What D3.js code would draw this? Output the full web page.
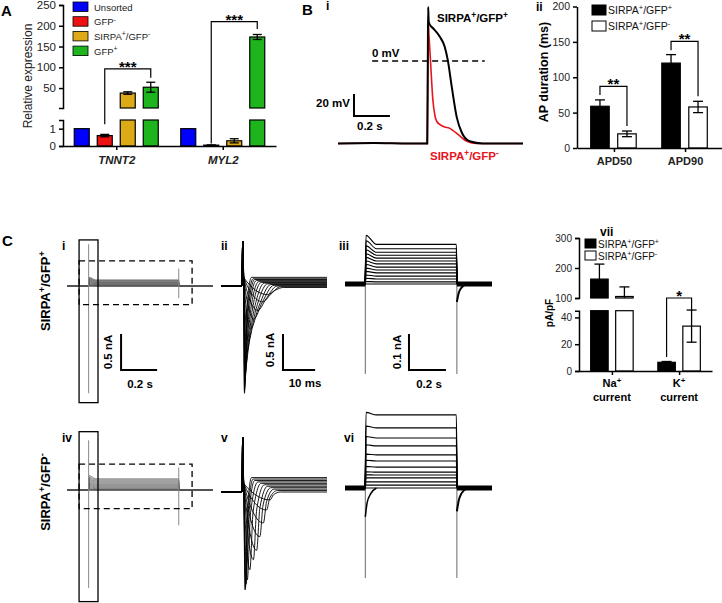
<!DOCTYPE html>
<html lang="en">
<head>
<meta charset="UTF-8">
<title>SIRPA / GFP cardiomyocytes</title>
<script src="https://d3js.org/d3.v7.min.js"></script>
<style>
  body { margin: 0; background: #fff; }
  svg { font-family: "Liberation Sans", Arial, sans-serif; }
  .ax path, .ax line { stroke: #000; stroke-width: 1.5px; }
  .ax text { fill: #222; }
</style>
</head>
<body>
<svg width="722" height="603"></svg>
<script>
// ---------- data: panel A (qPCR) ----------
const genes = ["TNNT2", "MYL2"];
const groupsA = ["Unsorted", "GFP^-", "SIRPA^+/GFP^-", "GFP^+"];
const colorsA = ["#0000ff", "#ee1111", "#ddaa17", "#1db41d"];
const tnnt2Mean = [1, 0.6, 38, 52];
const tnnt2Err = [0, 0.07, 3, 12];
const myl2Mean = [1, 0.05, 0.3, 173];
const myl2Err = [0, 0.01, 0.12, 6];
const ticksAHi = [50, 100, 150, 200, 250];
const ticksALo = [0, 1];
const sigA = [
  {gene: "TNNT2", from: 1, to: 3, level: 96, endFrom: 1.25, endTo: 75, label: "***"},
  {gene: "MYL2", from: 1, to: 3, level: 210, endFrom: 0.15, endTo: 192, label: "***"}
];

// ---------- data: panel B i (action potentials, ms / mV) ----------
const apBlackT = [0, 200, 400, 497, 500, 502, 505, 511, 528, 567, 594, 611, 633, 661, 689, 733, 805, 900, 1030];
const apBlackV = [-75, -74.5, -75, -75, 0, 49, 36, 33, 30, 22, 13, 1, -23, -51, -65, -73, -75, -75, -75];
const apRedT = [0, 200, 400, 497, 500, 502, 506, 515, 528, 540, 550, 570, 594, 620, 639, 670, 717, 772, 900, 1030];
const apRedV = [-75, -74.5, -75, -75, 0, 37, 25, 0, -35, -50, -55, -58, -60, -61, -63, -67, -73, -75, -75, -75];

// ---------- data: panel B ii (APD) ----------
const apdCats = ["APD50", "APD90"];
const apdGroups = ["SIRPA^+/GFP^+", "SIRPA^+/GFP^-"];
const apdPosMean = [59, 120];
const apdPosErr = [9, 12];
const apdNegMean = [20, 58];
const apdNegErr = [4, 8];
const ticksB = [0, 50, 100, 150, 200];
const sigB = [
  {cat: "APD50", level: 87, endFrom: 75, endTo: 31, label: "**"},
  {cat: "APD90", level: 150.7, endFrom: 138, endTo: 73, label: "**"}
];

// ---------- data: panel C i / iv (whole sweeps, s / nA) ----------
const ciSteady = [0.085, 0.075, 0.066, 0.057, 0.049, 0.041, 0.033, 0.026, 0.019, 0.012, 0.006, 0];
const ciOnset = [0.12, 0.11, 0.1, 0.09, 0.08, 0.07, 0.06, 0.05, 0.04, 0.03, 0.02, 0.01];
const civSteady = [0.155, 0.14, 0.125, 0.11, 0.095, 0.08, 0.066, 0.053, 0.04, 0.028, 0.017, 0.008, 0];
const civOnset = [0.2, 0.18, 0.16, 0.145, 0.13, 0.11, 0.095, 0.08, 0.065, 0.05, 0.035, 0.02, 0.01];

// ---------- data: panel C ii / v (Na currents, ms / nA) ----------
const ciiPeakT = [7.3, 7.3, 7.35, 7.4, 7.5, 7.7, 8.0, 8.5, 9.2, 10.2, 11.5, 13.0, 14.5];
const ciiPeakI = [-1.49, -1.45, -1.4, -1.32, -1.22, -1.08, -0.92, -0.76, -0.6, -0.46, -0.34, -0.22, -0.12];
const ciiMidT = [8.0, 8.2, 8.4, 8.7, 9.1, 9.6, 10.2, 10.9, 11.8, 12.8, 14.0, 15.4, 16.8];
const ciiMidI = [-0.35, -0.36, -0.37, -0.38, -0.38, -0.37, -0.35, -0.32, -0.28, -0.23, -0.18, -0.12, -0.06];
const ciiRecT = [9.5, 10, 10.5, 11, 11.8, 12.6, 13.5, 14.5, 15.5, 16.5, 17.5, 18.5, 19.5];
const ciiSteady = [0.12, 0.1, 0.09, 0.075, 0.06, 0.05, 0.04, 0.03, 0.02, 0.01, 0, -0.01, -0.02];
const cvPeakT = [7.5, 7.6, 7.8, 8.2, 9.0, 10.1, 11.1, 12.1, 13.2, 14.2, 15.3];
const cvPeakI = [-1.36, -1.33, -1.28, -1.22, -1.08, -0.94, -0.81, -0.62, -0.43, -0.25, -0.11];
const cvMidT = [8.2, 8.4, 8.7, 9.2, 10.0, 11.1, 12.1, 13.1, 14.2, 15.2, 16.3];
const cvMidI = [-0.3, -0.3, -0.3, -0.29, -0.27, -0.25, -0.22, -0.18, -0.13, -0.08, -0.04];
const cvRecT = [9.5, 10, 10.5, 11.5, 12.5, 13.5, 14.5, 15.5, 16.5, 17.5, 18.5];
const cvSteady = [0.2, 0.18, 0.16, 0.14, 0.12, 0.1, 0.08, 0.06, 0.04, 0.02, 0];

// ---------- data: panel C iii / vi (K currents, s / nA) ----------
const ciiiLevel = [0.11, 0.098, 0.088, 0.08, 0.072, 0.064, 0.056, 0.047, 0.039, 0.031, 0.022, 0.014, 0.006, 0];
const ciiiInit = [0.135, 0.12, 0.106, 0.095, 0.084, 0.074, 0.064, 0.054, 0.044, 0.035, 0.025, 0.016, 0.007, 0];
const cviLevel = [0.203, 0.167, 0.139, 0.117, 0.092, 0.075, 0.058, 0.044, 0.036, 0.028, 0.017, 0.008, 0];
const cviInit = [0.21, 0.172, 0.143, 0.12, 0.094, 0.077, 0.06, 0.045, 0.037, 0.028, 0.017, 0.008, 0];
const kTailT = [0.605, 0.615, 0.63, 0.66];
const ciiiTailI = [-0.05, -0.025, -0.01, 0];
const cviTailI = [-0.065, -0.035, -0.015, 0];
const cviHookT = [0.11, 0.12, 0.14, 0.17];
const cviHookI = [-0.08, -0.04, -0.015, 0];

// ---------- data: panel C vii (current densities, pA/pF) ----------
const ionCats = ["Na", "K"];
const ionPosMean = [163, 6.5];
const ionPosErr = [50, 0.6];
const ionNegMean = [105, 33.5];
const ionNegErr = [32, 12];
const ticksCHi = [100, 200, 300];
const ticksCLo = [0, 20, 40];
const sigC = [{cat: "K", level: 100, endFrom: 10.4, endTo: 45, label: "*"}];

const svg = d3.select("svg");
const FONT = '"Liberation Sans", Arial, sans-serif';
svg.append("rect").attr("width", 722).attr("height", 603).attr("fill", "#fff");

// text with ^+ / ^- superscripts
function label(g, x, y, str, opt = {}) {
  const fs = opt.size || 11;
  const t = g.append("text").attr("x", x).attr("y", y)
    .attr("font-size", fs)
    .attr("font-weight", opt.bold ? "bold" : null)
    .attr("font-style", opt.italic ? "italic" : null)
    .attr("text-anchor", opt.anchor || "start")
    .attr("fill", opt.color || "#000");
  if (opt.rotate) t.attr("transform", `rotate(${opt.rotate},${x},${y})`);
  let up = false;
  str.split(/(\^[+-])/).filter(p => p).forEach(p => {
    if (p[0] === "^") {
      t.append("tspan").attr("dy", up ? 0 : -fs * 0.38).attr("font-size", fs * 0.72).text(p[1]);
      up = true;
    } else {
      const s = t.append("tspan").text(p);
      if (up) { s.attr("dy", fs * 0.38); up = false; }
    }
  });
  return t;
}

function styleAxis(sel, size) {
  sel.attr("class", "ax").attr("font-family", FONT).attr("font-size", size);
}

// bar on a broken axis: lower scale [0, loMax], upper scale [hiMin, ...]
function segBar(g, x, w, v, e, fill, yLo, yHi, loMax, hiMin, cap) {
  const top = Math.min(v, loMax);
  g.append("rect").attr("x", x).attr("y", yLo(top)).attr("width", w)
    .attr("height", yLo(0) - yLo(top)).attr("fill", fill).attr("stroke", "#000").attr("stroke-width", 1.2);
  if (v > hiMin) {
    g.append("rect").attr("x", x).attr("y", yHi(v)).attr("width", w)
      .attr("height", yHi(hiMin) - yHi(v)).attr("fill", fill).attr("stroke", "#000").attr("stroke-width", 1.2);
  }
  if (e > 0) {
    const cx = x + w / 2;
    const ys = v > hiMin ? yHi : yLo;
    const floor = v > hiMin ? hiMin : 0;
    const lo = Math.max(v - e, floor);
    const hi = v + e;
    g.append("line").attr("x1", cx).attr("x2", cx).attr("y1", ys(lo)).attr("y2", ys(hi))
      .attr("stroke", "#000").attr("stroke-width", 1.3);
    [hi].concat(v - e > floor ? [lo] : []).forEach(c => {
      g.append("line").attr("x1", cx - cap / 2).attr("x2", cx + cap / 2).attr("y1", ys(c)).attr("y2", ys(c))
        .attr("stroke", "#000").attr("stroke-width", 1.3);
    });
  }
}

function bracket(g, x1, x2, yLevel, y1, y2, text) {
  g.append("path").attr("d", `M${x1},${y1}V${yLevel}H${x2}V${y2}`)
    .attr("fill", "none").attr("stroke", "#000").attr("stroke-width", 1.2);
  g.append("text").attr("x", (x1 + x2) / 2).attr("y", yLevel + 3).attr("text-anchor", "middle")
    .attr("font-size", 15).attr("font-weight", "bold").text(text);
}

// ================= Panel A =================
const gA = svg.append("g");
const xGene = d3.scalePoint().domain(genes).range([63, 276]).padding(0.5);
const xGrpA = d3.scaleBand().domain(d3.range(groupsA.length)).range([-42, 42]).paddingInner(0.348);
const yAhi = d3.scaleLinear().domain([2, 250]).range([108, 5]);
const yAlo = d3.scaleLinear().domain([0, 1.5]).range([146, 120]);
const yA = v => v <= 1.5 ? yAlo(v) : yAhi(v);

genes.forEach((gene, gi) => {
  const means = gi === 0 ? tnnt2Mean : myl2Mean;
  const errs = gi === 0 ? tnnt2Err : myl2Err;
  means.forEach((v, i) => {
    segBar(gA, xGene(gene) + xGrpA(i), xGrpA.bandwidth(), v, errs[i], colorsA[i], yAlo, yAhi, 1.5, 2, 9);
  });
});

gA.append("g").attr("transform", "translate(63,0)")
  .call(d3.axisLeft(yAhi).tickValues(ticksAHi).tickSize(4).tickSizeOuter(4))
  .call(s => styleAxis(s, 11.5));
gA.append("g").attr("transform", "translate(63,0)")
  .call(d3.axisLeft(yAlo).tickValues(ticksALo).tickFormat(d3.format("d")).tickSize(4).tickSizeOuter(4))
  .call(s => styleAxis(s, 11.5));
gA.append("g").attr("transform", "translate(0,146)")
  .call(d3.axisBottom(xGene).tickSize(4).tickSizeOuter(0))
  .call(s => styleAxis(s, 11.5))
  .call(s => s.selectAll("text").attr("font-weight", "bold").attr("font-style", "italic").attr("fill", "#000").attr("y", 10));

label(gA, 32, 76, "Relative expression", {size: 12, anchor: "middle", rotate: -90, color: "#222"});
label(gA, 1, 16, "A", {size: 15, bold: true});

groupsA.forEach((name, i) => {
  const y = 2 + i * 14.7;
  gA.append("rect").attr("x", 73).attr("y", y).attr("width", 15).attr("height", 9.5)
    .attr("fill", colorsA[i]).attr("stroke", "#000").attr("stroke-width", 0.8);
  label(gA, 94, y + 8.7, name, {size: 9.5, color: "#222"});
});

sigA.forEach(s => {
  bracket(gA, xGene(s.gene) + xGrpA(s.from) + xGrpA.bandwidth() / 2,
    xGene(s.gene) + xGrpA(s.to) + xGrpA.bandwidth() / 2,
    yA(s.level), yA(s.endFrom), yA(s.endTo), s.label);
});

// ================= Panel B i =================
const gBi = svg.append("g");
const xAP = d3.scaleLinear().domain([0, 1030]).range([338, 523]);
const yAP = d3.scaleLinear().domain([0, 20]).range([61, 39]);
const apLine = d3.line().x(d => xAP(d[0])).y(d => yAP(d[1])).curve(d3.curveMonotoneX);

gBi.append("path").datum(d3.zip(apRedT, apRedV)).attr("d", apLine)
  .attr("fill", "none").attr("stroke", "#e8141c").attr("stroke-width", 1.6);
gBi.append("path").datum(d3.zip(apBlackT, apBlackV)).attr("d", apLine)
  .attr("fill", "none").attr("stroke", "#000").attr("stroke-width", 2);
gBi.append("line").attr("x1", xAP(190)).attr("x2", xAP(817)).attr("y1", yAP(0)).attr("y2", yAP(0))
  .attr("stroke", "#000").attr("stroke-width", 1.5).attr("stroke-dasharray", "6,4");
gBi.append("path")
  .attr("d", `M${xAP(89)},${yAP(-30)}V${yAP(-50)}H${xAP(289)}`)
  .attr("fill", "none").attr("stroke", "#000").attr("stroke-width", 2);

label(gBi, 372, 57, "0 mV", {size: 11.5, bold: true});
label(gBi, 350, 107, "20 mV", {size: 11.5, bold: true, anchor: "end"});
label(gBi, 357, 130, "0.2 s", {size: 11.5, bold: true});
label(gBi, 437, 22, "SIRPA^+/GFP^+", {size: 11.5, bold: true});
label(gBi, 430, 160, "SIRPA^+/GFP^-", {size: 11.5, bold: true, color: "#e8141c"});
label(gBi, 302, 15, "B", {size: 15, bold: true});
label(gBi, 326, 10, "i", {size: 12, bold: true});

// ================= Panel B ii =================
const gBii = svg.append("g");
const xApd = d3.scalePoint().domain(apdCats).range([577, 722]).padding(0.52);
const yApd = d3.scaleLinear().domain([0, 200]).range([148, 6.5]);
const apdOff = [-14, 13];
const apdW = 18.5;

apdCats.forEach((c, i) => {
  segBar(gBii, xApd(c) + apdOff[0] - apdW / 2, apdW, apdPosMean[i], apdPosErr[i], "#000", yApd, yApd, 1e9, 1e9, 10);
  segBar(gBii, xApd(c) + apdOff[1] - apdW / 2, apdW, apdNegMean[i], apdNegErr[i], "#fff", yApd, yApd, 1e9, 1e9, 10);
});

gBii.append("g").attr("transform", "translate(577,0)")
  .call(d3.axisLeft(yApd).tickValues(ticksB).tickSize(4).tickSizeOuter(0))
  .call(s => styleAxis(s, 10.5));
gBii.append("g").attr("transform", "translate(0,148)")
  .call(d3.axisBottom(xApd).tickSize(4).tickSizeOuter(0))
  .call(s => styleAxis(s, 11))
  .call(s => s.selectAll("text").attr("font-weight", "bold").attr("fill", "#000").attr("y", 9));

sigB.forEach(s => {
  bracket(gBii, xApd(s.cat) + apdOff[0], xApd(s.cat) + apdOff[1],
    yApd(s.level), yApd(s.endFrom), yApd(s.endTo), s.label);
});

apdGroups.forEach((name, i) => {
  const y = 5 + i * 16;
  gBii.append("rect").attr("x", 592).attr("y", y).attr("width", 14).attr("height", 10)
    .attr("fill", i === 0 ? "#000" : "#fff").attr("stroke", "#000").attr("stroke-width", 1);
  label(gBii, 608, y + 9, name, {size: 10.5, color: "#111"});
});
label(gBii, 548, 72, "AP duration (ms)", {size: 12.5, bold: true, anchor: "middle", rotate: -90});
label(gBii, 536, 11, "ii", {size: 12, bold: true});

// ================= Panel C =================
const gC = svg.append("g");
const line = (xs, ys) => d3.line().x(d => xs(d[0])).y(d => ys(d[1])).curve(d3.curveMonotoneX);

function sweepPanel(yBase, steady, onset, spikeOn, spikeOff, box, dash) {
  const x = d3.scaleLinear().domain([0, 0.81]).range([67, 213]);
  const y = d3.scaleLinear().domain([0, 0.5]).range([yBase, yBase - 36]);
  const g = gC.append("g");
  g.append("line").attr("x1", x(0)).attr("x2", x(0.81)).attr("y1", y(0)).attr("y2", y(0))
    .attr("stroke", "#000").attr("stroke-width", 1.2);
  steady.forEach((s, k) => {
    const pts = [[0, 0], [0.119, 0], [0.123, onset[k]], [0.16, s], [0.6195, s], [0.6215, 0], [0.81, 0]];
    g.append("path").datum(pts).attr("d", line(x, y)).attr("fill", "none")
      .attr("stroke", "#555").attr("stroke-width", 0.7);
  });
  [[0.12, spikeOn], [0.62, spikeOff]].forEach(([t, r]) => {
    g.append("line").attr("x1", x(t)).attr("x2", x(t)).attr("y1", y(r[0])).attr("y2", y(r[1]))
      .attr("stroke", "#888").attr("stroke-width", 1);
  });
  g.append("rect").attr("x", x(box[0])).attr("y", y(box[2])).attr("width", x(box[1]) - x(box[0]))
    .attr("height", y(box[3]) - y(box[2])).attr("fill", "none").attr("stroke", "#000").attr("stroke-width", 1.3);
  g.append("rect").attr("x", x(dash[0])).attr("y", y(dash[2])).attr("width", x(dash[1]) - x(dash[0]))
    .attr("height", y(dash[3]) - y(dash[2])).attr("fill", "none").attr("stroke", "#000")
    .attr("stroke-width", 1.3).attr("stroke-dasharray", "6,4");
  return {x, y, g};
}

const pi = sweepPanel(286, ciSteady, ciOnset, [0.58, -1.49], [0.24, -0.17],
  [0.067, 0.172, 0.64, -1.62], [0.067, 0.694, 0.35, -0.26]);
pi.g.append("path").attr("d", `M${pi.x(0.3)},${pi.y(-0.667)}V${pi.y(-1.167)}H${pi.x(0.5)}`)
  .attr("fill", "none").attr("stroke", "#000").attr("stroke-width", 2);
label(gC, 112, 352, "0.5 nA", {size: 11.5, bold: true, anchor: "middle", rotate: -90});
label(gC, 140, 388, "0.2 s", {size: 11.5, bold: true, anchor: "middle"});

sweepPanel(490, civSteady, civOnset, [0.69, -1.36], [0.31, -0.49],
  [0.067, 0.172, 0.81, -1.55], [0.067, 0.694, 0.36, -0.26]);

function naPanel(yBase, pT, pI, mT, mI, rT, st, cap) {
  const x = d3.scaleLinear().domain([0, 33]).range([221, 327]);
  const y = d3.scaleLinear().domain([0, 0.5]).range([yBase, yBase - 36]);
  const g = gC.append("g");
  pT.forEach((tp, k) => {
    const pts = [[0, 0], [6.5, 0], [6.75, cap], [7.05, 0.12], [tp, pI[k]], [mT[k], mI[k]], [rT[k], st[k]], [33, st[k]]];
    g.append("path").datum(pts).attr("d", line(x, y)).attr("fill", "none")
      .attr("stroke", "#000").attr("stroke-width", 0.9);
  });
  g.append("line").attr("x1", x(0)).attr("x2", x(6.5)).attr("y1", y(0)).attr("y2", y(0))
    .attr("stroke", "#000").attr("stroke-width", 1.6);
  return {x, y, g};
}
const pii = naPanel(286, ciiPeakT, ciiPeakI, ciiMidT, ciiMidI, ciiRecT, ciiSteady, 0.62);
pii.g.append("path").attr("d", `M${pii.x(19.3)},${pii.y(-0.667)}V${pii.y(-1.167)}H${pii.x(29.3)}`)
  .attr("fill", "none").attr("stroke", "#000").attr("stroke-width", 2);
label(gC, 274, 350, "0.5 nA", {size: 11.5, bold: true, anchor: "middle", rotate: -90});
label(gC, 305, 387, "10 ms", {size: 11.5, bold: true, anchor: "middle"});
naPanel(492, cvPeakT, cvPeakI, cvMidT, cvMidI, cvRecT, cvSteady, 0.76);

function kPanel(yBase, level, init, tailI, hook) {
  const x = d3.scaleLinear().domain([0, 0.795]).range([345, 492]);
  const y = d3.scaleLinear().domain([0, 0.1]).range([yBase, yBase - 36]);
  const g = gC.append("g");
  [[0.11, -0.25], [0.605, -0.25]].forEach(([t, r]) => {
    g.append("line").attr("x1", x(t)).attr("x2", x(t)).attr("y1", y(0)).attr("y2", y(r))
      .attr("stroke", "#777").attr("stroke-width", 1.1);
  });
  level.forEach((lv, k) => {
    const pts = [[0, 0], [0.108, 0], [0.114, init[k]], [0.17, lv], [0.602, lv], [0.607, 0], [0.795, 0]];
    g.append("path").datum(pts).attr("d", line(x, y)).attr("fill", "none")
      .attr("stroke", "#000").attr("stroke-width", 1.1);
  });
  [[0, 0.11], [0.605, 0.795]].forEach(([a, b]) => {
    g.append("line").attr("x1", x(a)).attr("x2", x(b)).attr("y1", y(0)).attr("y2", y(0))
      .attr("stroke", "#000").attr("stroke-width", 5);
  });
  g.append("path").datum(d3.zip(kTailT, tailI)).attr("d", line(x, y)).attr("fill", "none")
    .attr("stroke", "#000").attr("stroke-width", 2);
  if (hook) {
    g.append("path").datum(d3.zip(cviHookT, hook)).attr("d", line(x, y)).attr("fill", "none")
      .attr("stroke", "#000").attr("stroke-width", 1.5);
  }
  return {x, y, g};
}
const piii = kPanel(284, ciiiLevel, ciiiInit, ciiiTailI, null);
piii.g.append("path").attr("d", `M${piii.x(0.346)},${piii.y(-0.139)}V${piii.y(-0.239)}H${piii.x(0.546)}`)
  .attr("fill", "none").attr("stroke", "#000").attr("stroke-width", 2);
label(gC, 401, 352, "0.1 nA", {size: 11.5, bold: true, anchor: "middle", rotate: -90});
label(gC, 429, 388, "0.2 s", {size: 11.5, bold: true, anchor: "middle"});
kPanel(488, cviLevel, cviInit, cviTailI, cviHookI);

// panel C vii
const gV = svg.append("g");
const xIon = d3.scalePoint().domain(ionCats).range([579, 712]).padding(0.49);
const yChi = d3.scaleLinear().domain([100, 300]).range([298, 238]);
const yClo = d3.scaleLinear().domain([0, 45]).range([371, 310.7]);
const yC = v => v <= 45 ? yClo(v) : yChi(v);
const ionOff = [-12.5, 12.5];
const ionW = 17.5;
ionCats.forEach((c, i) => {
  segBar(gV, xIon(c) + ionOff[0] - ionW / 2, ionW, ionPosMean[i], ionPosErr[i], "#000", yClo, yChi, 45, 100, 10);
  segBar(gV, xIon(c) + ionOff[1] - ionW / 2, ionW, ionNegMean[i], ionNegErr[i], "#fff", yClo, yChi, 45, 100, 10);
});
gV.append("g").attr("transform", "translate(579,0)")
  .call(d3.axisLeft(yChi).tickValues(ticksCHi).tickSize(4).tickSizeOuter(4))
  .call(s => styleAxis(s, 10));
gV.append("g").attr("transform", "translate(579,0)")
  .call(d3.axisLeft(yClo).tickValues(ticksCLo).tickSize(4).tickSizeOuter(4))
  .call(s => styleAxis(s, 10));
gV.append("g").attr("transform", "translate(0,371)")
  .call(d3.axisBottom(xIon).tickSize(4).tickSizeOuter(0))
  .call(s => styleAxis(s, 10.5))
  .call(s => s.selectAll("text").remove());
ionCats.forEach(c => {
  label(gV, xIon(c), 387, c + "^+", {size: 11, bold: true, anchor: "middle"});
  label(gV, xIon(c), 401, "current", {size: 11, bold: true, anchor: "middle"});
});
sigC.forEach(s => {
  bracket(gV, xIon(s.cat) + ionOff[0], xIon(s.cat) + ionOff[1], yC(s.level), yC(s.endFrom), yC(s.endTo), s.label);
});
apdGroups.forEach((name, i) => {
  const y = 239 + i * 12;
  gV.append("rect").attr("x", 585).attr("y", y).attr("width", 11).attr("height", 9)
    .attr("fill", i === 0 ? "#000" : "#fff").attr("stroke", "#000").attr("stroke-width", 1);
  label(gV, 598, y + 8.5, name, {size: 10, color: "#111"});
});
label(gV, 553, 313, "pA/pF", {size: 10, bold: true, anchor: "middle", rotate: -90});

// panel C labels
label(gC, 2, 246, "C", {size: 15, bold: true});
label(gC, 62, 250, "i", {size: 12, bold: true});
label(gC, 221, 250, "ii", {size: 12, bold: true});
label(gC, 339, 250, "iii", {size: 12, bold: true});
label(gC, 600, 236, "vii", {size: 12, bold: true});
label(gC, 62, 442, "iv", {size: 12, bold: true});
label(gC, 221, 442, "v", {size: 12, bold: true});
label(gC, 344, 442, "vi", {size: 12, bold: true});
label(gC, 50, 291, "SIRPA^+/GFP^+", {size: 13, bold: true, anchor: "middle", rotate: -90});
label(gC, 50, 492, "SIRPA^+/GFP^-", {size: 13, bold: true, anchor: "middle", rotate: -90});
</script>
</body>
</html>
